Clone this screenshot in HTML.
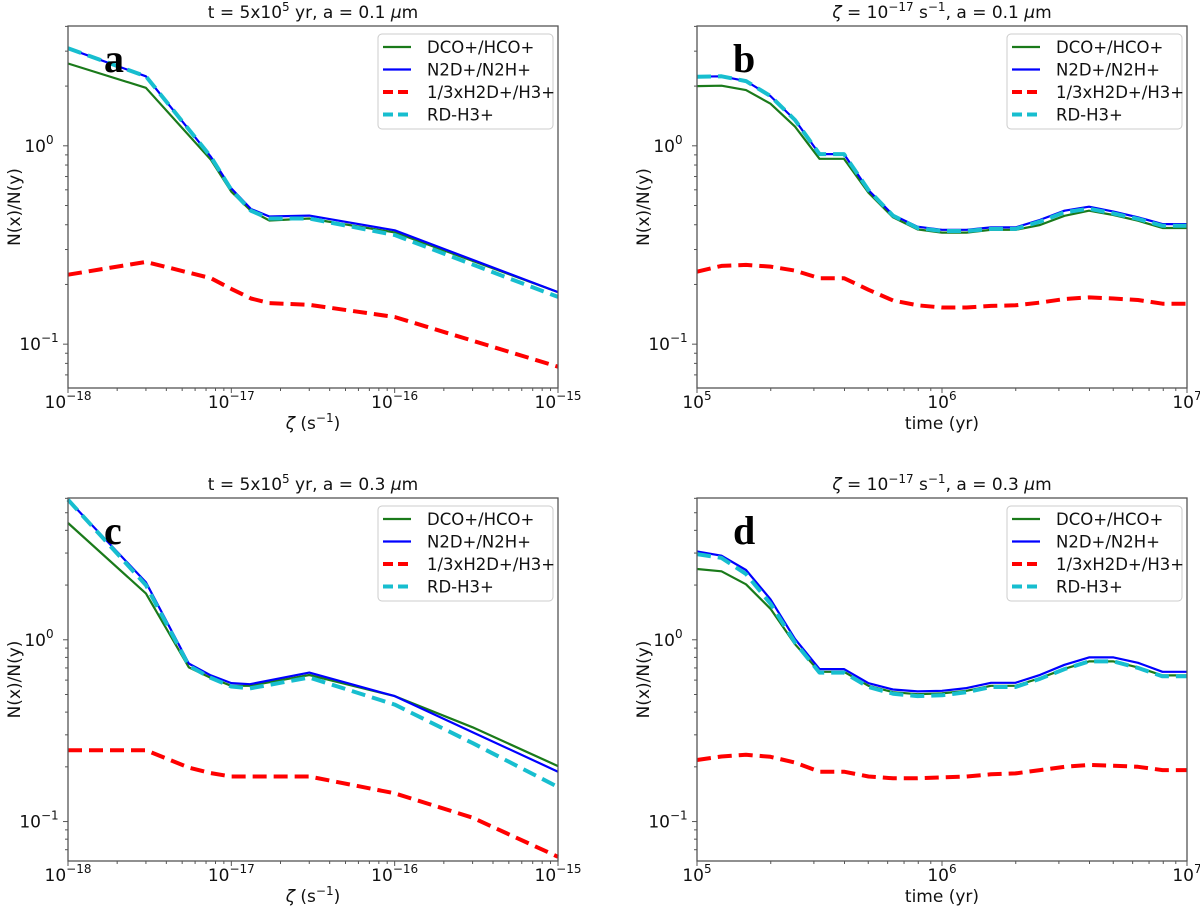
<!DOCTYPE html>
<html><head><meta charset="utf-8"><style>
body{margin:0;background:#fff}
svg{display:block;font-family:"DejaVu Sans","Liberation Sans",sans-serif}
</style></head><body>
<svg id="fig" width="1200" height="911" viewBox="0 0 1200 911" xmlns="http://www.w3.org/2000/svg"></svg>
<script>
// ---- data ----
const zetaA = [1e-18,3e-18,7.5e-18,1e-17,1.32e-17,1.71e-17,3e-17,1e-16,1e-15];
const aGreen = [2.6,1.96,0.85,0.587,0.47,0.42,0.43,0.366,0.183];
const aBlue  = [3.1,2.24,0.88,0.61,0.48,0.44,0.445,0.375,0.183];
const aRed   = [0.224,0.26,0.215,0.19,0.17,0.161,0.158,0.137,0.077];
const aCyan  = [3.1,2.24,0.88,0.60,0.47,0.43,0.43,0.355,0.173];

const zetaC = [1e-18,3e-18,5.5e-18,7.4e-18,1e-17,1.3e-17,3e-17,1e-16,3e-16,1e-15];
const cGreen = [4.39,1.8,0.705,0.62,0.558,0.558,0.64,0.49,0.33,0.202];
const cBlue  = [5.9,2.07,0.74,0.64,0.578,0.57,0.66,0.49,0.31,0.188];
const cRed   = [0.247,0.247,0.198,0.185,0.177,0.177,0.177,0.143,0.105,0.064];
const cCyan  = [5.9,2.0,0.72,0.62,0.553,0.54,0.62,0.44,0.27,0.155];

const logTime = [5.0,5.1,5.2,5.3,5.4,5.5,5.6,5.7,5.8,5.9,6.0,6.1,6.2,6.3,6.4,6.5,6.6,6.7,6.8,6.9,7.0];
const bGreen = [2.0,2.01,1.91,1.63,1.25,0.86,0.86,0.58,0.436,0.379,0.365,0.365,0.377,0.377,0.399,0.444,0.471,0.448,0.419,0.385,0.385];
const bBlue  = [2.23,2.24,2.12,1.78,1.35,0.908,0.908,0.598,0.448,0.391,0.377,0.377,0.388,0.388,0.423,0.471,0.493,0.466,0.436,0.403,0.403];
const bRed   = [0.232,0.248,0.251,0.246,0.235,0.215,0.215,0.188,0.166,0.157,0.153,0.153,0.156,0.157,0.162,0.169,0.172,0.17,0.167,0.16,0.16];
const bCyan  = [2.23,2.24,2.12,1.78,1.35,0.908,0.908,0.598,0.445,0.385,0.372,0.372,0.381,0.381,0.415,0.462,0.482,0.456,0.428,0.395,0.395];

const dGreen = [2.45,2.38,2.02,1.48,0.946,0.667,0.667,0.558,0.515,0.502,0.507,0.524,0.558,0.558,0.615,0.692,0.76,0.76,0.705,0.637,0.637];
const dBlue  = [3.06,2.9,2.42,1.67,1.01,0.69,0.69,0.577,0.533,0.52,0.524,0.542,0.58,0.58,0.641,0.728,0.8,0.8,0.747,0.667,0.667];
const dRed   = [0.218,0.228,0.233,0.227,0.211,0.188,0.188,0.177,0.173,0.173,0.175,0.177,0.182,0.184,0.192,0.2,0.205,0.203,0.2,0.192,0.192];
const dCyan  = [2.96,2.82,2.3,1.58,0.967,0.66,0.66,0.55,0.505,0.49,0.495,0.515,0.55,0.55,0.61,0.69,0.76,0.76,0.70,0.63,0.63];

const legendLabels = ["DCO+/HCO+","N2D+/N2H+","1/3xH2D+/H3+","RD-H3+"];
const NS="http://www.w3.org/2000/svg";
const svg=document.getElementById('fig');
function el(tag,attrs,parent){const e=document.createElementNS(NS,tag);for(const k in attrs)e.setAttribute(k,attrs[k]);(parent||svg).appendChild(e);return e;}

const styles=[
 {stroke:"#1a7a1a",w:2.2,dash:null},
 {stroke:"#0000ff",w:2.2,dash:null},
 {stroke:"#ff0000",w:4,dash:"14,7"},
 {stroke:"#17becf",w:4,dash:"14,7"}];

function panel(cfg){
 const g=el('g',{});
 
 
 const {x0,x1,y0,y1,xmin,xmax,ymin,ymax}=cfg;
 const X=v=>x0+(Math.log10(v)-xmin)/(xmax-xmin)*(x1-x0);
 const Y=v=>y1-(Math.log10(v)-ymin)/(ymax-ymin)*(y1-y0);
 const xs=cfg.xs;
 cfg.series.forEach((s,i)=>{
  const st=styles[i];
  const pts=s.map((v,j)=>X(xs[j]).toFixed(1)+","+Y(v).toFixed(1)).join(" ");
  const p=el('polyline',{points:pts,fill:"none",stroke:st.stroke,"stroke-width":st.w,"stroke-linejoin":"round"},g);
  if(st.dash)p.setAttribute('stroke-dasharray',st.dash);
  
  
 });
 const fr=el('rect',{x:x0,y:y0,width:x1-x0,height:y1-y0,fill:"none",stroke:"#555","stroke-width":1.3},g);
 
 
 for(let d=Math.floor(xmin);d<=Math.ceil(xmax);d++){
  for(let m=1;m<10;m++){
   const lv=d+Math.log10(m); if(lv<xmin-1e-9||lv>xmax+1e-9)continue;
   const xx=x0+(lv-xmin)/(xmax-xmin)*(x1-x0);
   el('line',{x1:xx,x2:xx,y1:y1,y2:y1+(m==1?5:3),stroke:"#555","stroke-width":1},g);
   if(m==1){
    const t=el('text',{x:xx,y:y1+20,"text-anchor":"middle","font-size":17,fill:"#111"},g);
    
    
    t.appendChild(document.createTextNode("10"));
    const sp=el('tspan',{dy:-8,"font-size":12},t);sp.textContent=cfg.xlab(d);
   }
  }
 }
 for(let d=Math.floor(ymin);d<=Math.ceil(ymax);d++){
  for(let m=1;m<10;m++){
   const lv=d+Math.log10(m); if(lv<ymin||lv>ymax)continue;
   const yy=y1-(lv-ymin)/(ymax-ymin)*(y1-y0);
   el('line',{x1:x0,x2:x0-(m==1?5:3),y1:yy,y2:yy,stroke:"#555","stroke-width":1},g);
   if(m==1){
    const t=el('text',{x:x0-29,y:yy+6,"text-anchor":"middle","font-size":17,fill:"#111"},g);
    
    
    t.appendChild(document.createTextNode("10"));
    const sp=el('tspan',{dy:-8,"font-size":12},t);sp.textContent=d==0?"0":"\u22121";
   }
  }
 }
 const yl=el('text',{x:0,y:0,transform:`translate(${x0-48},${(y0+y1)/2}) rotate(-90)`,"text-anchor":"middle","font-size":17,fill:"#111"},g);
 
 
 yl.textContent="N(x)/N(y)";
 const xl=el('text',{x:(x0+x1)/2,y:y1+41,"text-anchor":"middle","font-size":17,fill:"#111"},g);
 
 
 xl.innerHTML=cfg.xtitle;
 const tt=el('text',{x:(x0+x1)/2,y:y0-8,"text-anchor":"middle","font-size":17,fill:"#111"},g);
 
 
 tt.innerHTML=cfg.title;
 const lt=el('text',{x:x0+36,y:y0+46,"font-size":40,"font-weight":"bold","font-family":"Liberation Serif,serif",fill:"#000"},g);
 
 
 lt.textContent=cfg.letter;
 const lg=el('g',{},g);
 
 
 const lx=x1-180, ly=y0+8;
 el('rect',{x:lx,y:ly,width:175,height:95,rx:4,fill:"#fff","fill-opacity":0.85,stroke:"#ccc"},lg);
 legendLabels.forEach((lab,i)=>{
  const st=styles[i];const yy=ly+13+i*22.5;
  const ln=el('line',{x1:lx+5,x2:lx+33,y1:yy,y2:yy,stroke:st.stroke,"stroke-width":st.w},lg);
  if(st.dash)ln.setAttribute('stroke-dasharray',"10,5");
  const t=el('text',{x:lx+49,y:yy+6,"font-size":16.5,fill:"#111"},lg);
  
  
  t.textContent=lab;
 });
}
const zetaLab=d=>"\u2212"+(-d);
const sup=(s)=>`<tspan dy="-7" font-size="12">${s}</tspan><tspan dy="7">`;
const zx=`<tspan font-style="italic">ζ</tspan> (s${sup("\u22121")})</tspan>`;
const tx="time (yr)";
const row1={y0:26,y1:388,ymin:-1.221,ymax:0.604};
const row2={y0:498,y1:861,ymin:-1.217,ymax:0.78};
panel(Object.assign({name:'panel-a',letter:'a',x0:68,x1:558,xmin:-18,xmax:-15,xs:zetaA,series:[aGreen,aBlue,aRed,aCyan],xlab:zetaLab,xtitle:zx,
 title:`t = 5x10${sup("5")} yr, a = 0.1 <tspan font-style="italic">μ</tspan>m</tspan>`},row1));
panel(Object.assign({name:'panel-b',letter:'b',x0:697,x1:1187,xmin:5,xmax:7,xs:logTime.map(v=>Math.pow(10,v)),series:[bGreen,bBlue,bRed,bCyan],xlab:d=>String(d),xtitle:tx,
 title:`<tspan font-style="italic">ζ</tspan> = 10${sup("\u221217")} s${sup("\u22121")}, a = 0.1 <tspan font-style="italic">μ</tspan>m</tspan></tspan>`},row1));
panel(Object.assign({name:'panel-c',letter:'c',x0:68,x1:558,xmin:-18,xmax:-15,xs:zetaC,series:[cGreen,cBlue,cRed,cCyan],xlab:zetaLab,xtitle:zx,
 title:`t = 5x10${sup("5")} yr,  a = 0.3 <tspan font-style="italic">μ</tspan>m</tspan>`},row2));
panel(Object.assign({name:'panel-d',letter:'d',x0:697,x1:1187,xmin:5,xmax:7,xs:logTime.map(v=>Math.pow(10,v)),series:[dGreen,dBlue,dRed,dCyan],xlab:d=>String(d),xtitle:tx,
 title:`<tspan font-style="italic">ζ</tspan> = 10${sup("\u221217")} s${sup("\u22121")}, a = 0.3 <tspan font-style="italic">μ</tspan>m</tspan></tspan>`},row2));
</script>
</body></html>
